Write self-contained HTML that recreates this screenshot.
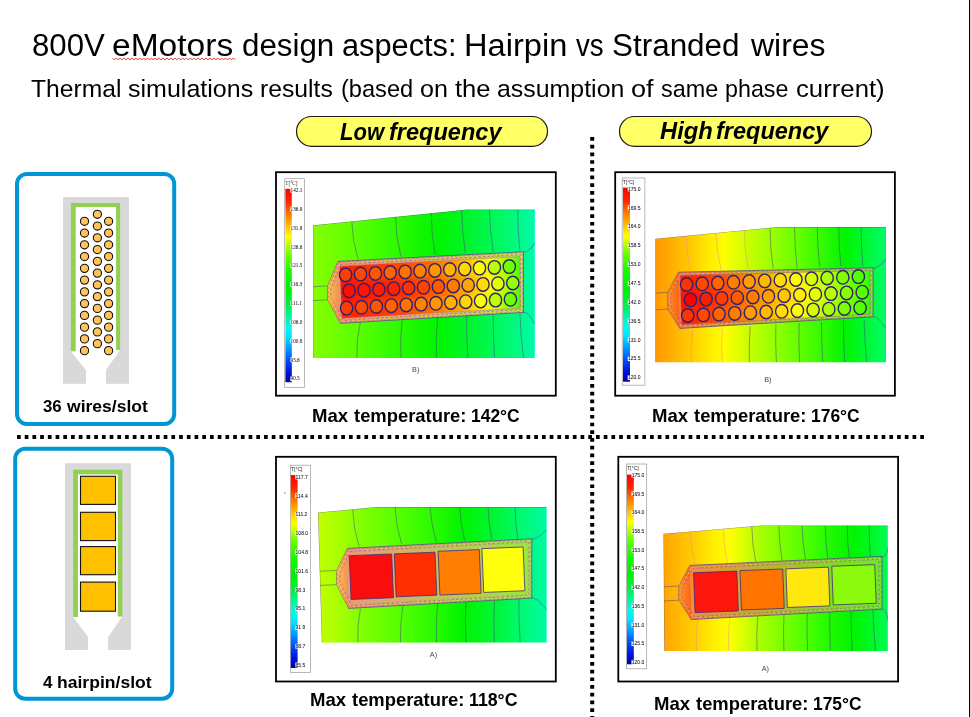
<!DOCTYPE html>
<html><head><meta charset="utf-8"><title>800V eMotors design aspects</title>
<style>
html,body{margin:0;padding:0;background:#fff;}
body{width:970px;height:717px;position:relative;overflow:hidden;font-family:"Liberation Sans",sans-serif;color:#000;}
.t{position:absolute;white-space:nowrap;line-height:1;transform-origin:0 0;}
svg{position:absolute;left:0;top:0;}
svg text{opacity:0.99;}
.tiny{font-family:"Liberation Serif",serif;}
</style></head><body>
<svg width="970" height="717" viewBox="0 0 970 717">
<rect x="969" y="0" width="1" height="717" fill="#000"/>
<line x1="17" y1="437" x2="926" y2="437" stroke="#000" stroke-width="4" stroke-dasharray="3.7 4.02"/>
<line x1="592.2" y1="137" x2="592.2" y2="717" stroke="#000" stroke-width="4" stroke-dasharray="3.7 4.02"/>
<rect x="296.5" y="116.5" width="251" height="29.8" rx="14.9" fill="#FFFF66" stroke="#1a1a1a" stroke-width="1.2"/>
<rect x="619.5" y="116.5" width="252" height="29.8" rx="14.9" fill="#FFFF66" stroke="#1a1a1a" stroke-width="1.2"/>
<polyline points="112.40,57.9 114.35,60.0 116.30,57.9 118.25,60.0 120.20,57.9 122.15,60.0 124.10,57.9 126.05,60.0 128.00,57.9 129.95,60.0 131.90,57.9 133.85,60.0 135.80,57.9 137.75,60.0 139.70,57.9 141.65,60.0 143.60,57.9 145.55,60.0 147.50,57.9 149.45,60.0 151.40,57.9 153.35,60.0 155.30,57.9 157.25,60.0 159.20,57.9 161.15,60.0 163.10,57.9 165.05,60.0 167.00,57.9 168.95,60.0 170.90,57.9 172.85,60.0 174.80,57.9 176.75,60.0 178.70,57.9 180.65,60.0 182.60,57.9 184.55,60.0 186.50,57.9 188.45,60.0 190.40,57.9 192.35,60.0 194.30,57.9 196.25,60.0 198.20,57.9 200.15,60.0 202.10,57.9 204.05,60.0 206.00,57.9 207.95,60.0 209.90,57.9 211.85,60.0 213.80,57.9 215.75,60.0 217.70,57.9 219.65,60.0 221.60,57.9 223.55,60.0 225.50,57.9 227.45,60.0 229.40,57.9 231.35,60.0 233.30,57.9 235.25,60.0" fill="none" stroke="#ee3b3b" stroke-width="1.0" stroke-linejoin="round"/>
<rect x="17" y="174" width="157.2" height="250" rx="10" fill="#fff" stroke="#0096D6" stroke-width="4"/>
<rect x="15.2" y="448.7" width="157" height="250" rx="10" fill="#fff" stroke="#0096D6" stroke-width="4"/>
<rect x="63.1" y="197" width="65.8" height="186.8" fill="#D9D9D9"/>
<polygon points="75.5,207 116.1,207 116.1,350 120.1,350 106,370 106,384 86,384 86,370.2 70.9,351.2 75.5,351.2" fill="#fff"/>
<path d="M70.9,351.2 L70.9,203 L120.1,203 L120.1,350 L116.1,350 L116.1,207 L75.6,207 L75.6,351.2 Z" fill="#92D050"/>
<circle cx="84.5" cy="221.30" r="4.1" fill="#FFC35A" stroke="#111" stroke-width="1.1"/><circle cx="97.4" cy="214.30" r="4.1" fill="#FFC35A" stroke="#111" stroke-width="1.1"/><circle cx="108.6" cy="221.30" r="4.1" fill="#FFC35A" stroke="#111" stroke-width="1.1"/>
<circle cx="84.5" cy="233.06" r="4.1" fill="#FFC35A" stroke="#111" stroke-width="1.1"/><circle cx="97.4" cy="226.06" r="4.1" fill="#FFC35A" stroke="#111" stroke-width="1.1"/><circle cx="108.6" cy="233.06" r="4.1" fill="#FFC35A" stroke="#111" stroke-width="1.1"/>
<circle cx="84.5" cy="244.82" r="4.1" fill="#FFC35A" stroke="#111" stroke-width="1.1"/><circle cx="97.4" cy="237.82" r="4.1" fill="#FFC35A" stroke="#111" stroke-width="1.1"/><circle cx="108.6" cy="244.82" r="4.1" fill="#FFC35A" stroke="#111" stroke-width="1.1"/>
<circle cx="84.5" cy="256.58" r="4.1" fill="#FFC35A" stroke="#111" stroke-width="1.1"/><circle cx="97.4" cy="249.58" r="4.1" fill="#FFC35A" stroke="#111" stroke-width="1.1"/><circle cx="108.6" cy="256.58" r="4.1" fill="#FFC35A" stroke="#111" stroke-width="1.1"/>
<circle cx="84.5" cy="268.34" r="4.1" fill="#FFC35A" stroke="#111" stroke-width="1.1"/><circle cx="97.4" cy="261.34" r="4.1" fill="#FFC35A" stroke="#111" stroke-width="1.1"/><circle cx="108.6" cy="268.34" r="4.1" fill="#FFC35A" stroke="#111" stroke-width="1.1"/>
<circle cx="84.5" cy="280.10" r="4.1" fill="#FFC35A" stroke="#111" stroke-width="1.1"/><circle cx="97.4" cy="273.10" r="4.1" fill="#FFC35A" stroke="#111" stroke-width="1.1"/><circle cx="108.6" cy="280.10" r="4.1" fill="#FFC35A" stroke="#111" stroke-width="1.1"/>
<circle cx="84.5" cy="291.86" r="4.1" fill="#FFC35A" stroke="#111" stroke-width="1.1"/><circle cx="97.4" cy="284.86" r="4.1" fill="#FFC35A" stroke="#111" stroke-width="1.1"/><circle cx="108.6" cy="291.86" r="4.1" fill="#FFC35A" stroke="#111" stroke-width="1.1"/>
<circle cx="84.5" cy="303.62" r="4.1" fill="#FFC35A" stroke="#111" stroke-width="1.1"/><circle cx="97.4" cy="296.62" r="4.1" fill="#FFC35A" stroke="#111" stroke-width="1.1"/><circle cx="108.6" cy="303.62" r="4.1" fill="#FFC35A" stroke="#111" stroke-width="1.1"/>
<circle cx="84.5" cy="315.38" r="4.1" fill="#FFC35A" stroke="#111" stroke-width="1.1"/><circle cx="97.4" cy="308.38" r="4.1" fill="#FFC35A" stroke="#111" stroke-width="1.1"/><circle cx="108.6" cy="315.38" r="4.1" fill="#FFC35A" stroke="#111" stroke-width="1.1"/>
<circle cx="84.5" cy="327.14" r="4.1" fill="#FFC35A" stroke="#111" stroke-width="1.1"/><circle cx="97.4" cy="320.14" r="4.1" fill="#FFC35A" stroke="#111" stroke-width="1.1"/><circle cx="108.6" cy="327.14" r="4.1" fill="#FFC35A" stroke="#111" stroke-width="1.1"/>
<circle cx="84.5" cy="338.90" r="4.1" fill="#FFC35A" stroke="#111" stroke-width="1.1"/><circle cx="97.4" cy="331.90" r="4.1" fill="#FFC35A" stroke="#111" stroke-width="1.1"/><circle cx="108.6" cy="338.90" r="4.1" fill="#FFC35A" stroke="#111" stroke-width="1.1"/>
<circle cx="84.5" cy="350.66" r="4.1" fill="#FFC35A" stroke="#111" stroke-width="1.1"/><circle cx="97.4" cy="343.66" r="4.1" fill="#FFC35A" stroke="#111" stroke-width="1.1"/><circle cx="108.6" cy="350.66" r="4.1" fill="#FFC35A" stroke="#111" stroke-width="1.1"/>
<rect x="65" y="463.2" width="66" height="186.8" fill="#D9D9D9"/>
<polygon points="78,474.5 118,474.5 118,616.5 122.3,616.5 108.1,637 108.1,650.2 88.1,650.2 88.1,637 73.2,617 78,617" fill="#fff"/>
<path d="M73.2,617 L73.2,469.8 L122.3,469.8 L122.3,616.5 L117.8,616.5 L117.8,474.3 L77.9,474.3 L77.9,617 Z" fill="#92D050"/>
<rect x="80.5" y="476.3" width="35" height="28.1" fill="#FFC000" stroke="#111" stroke-width="1.1"/>
<rect x="80.5" y="512.3" width="35" height="28.3" fill="#FFC000" stroke="#111" stroke-width="1.1"/>
<rect x="80.5" y="546.6" width="35" height="28.1" fill="#FFC000" stroke="#111" stroke-width="1.1"/>
<rect x="80.5" y="582.1" width="35" height="29.1" fill="#FFC000" stroke="#111" stroke-width="1.1"/>
<defs><filter id="soft" x="-2%" y="-2%" width="104%" height="104%"><feGaussianBlur stdDeviation="0.45"/></filter><filter id="blur3" x="-10%" y="-40%" width="120%" height="180%"><feGaussianBlur stdDeviation="2.6"/></filter></defs>
<rect x="276.00" y="172.20" width="279.80" height="223.50" fill="#fff" stroke="#000" stroke-width="1.8"/>
<rect x="284.7" y="178.7" width="19.9" height="208.6" fill="#fff" stroke="#9a9a9a" stroke-width="0.7"/>
<linearGradient id="barTL" x1="0" y1="0" x2="0" y2="1"><stop offset="0" stop-color="#ff0000"/><stop offset="0.07" stop-color="#ff2800"/><stop offset="0.137" stop-color="#ff8000"/><stop offset="0.25" stop-color="#ffff00"/><stop offset="0.345" stop-color="#64ff00"/><stop offset="0.433" stop-color="#14fa00"/><stop offset="0.521" stop-color="#00f000"/><stop offset="0.593" stop-color="#00f03c"/><stop offset="0.654" stop-color="#00f596"/><stop offset="0.716" stop-color="#00faeb"/><stop offset="0.76" stop-color="#00e6ff"/><stop offset="0.813" stop-color="#00aaff"/><stop offset="0.875" stop-color="#005aff"/><stop offset="0.946" stop-color="#0014dc"/><stop offset="1" stop-color="#0000aa"/></linearGradient>
<rect x="285.4" y="188.8" width="6.4" height="193.4" fill="url(#barTL)"/>
<text class="tiny" x="285.3" y="184.7" font-size="5.2" fill="#222">T[&#176;C]</text>
<rect x="290.3" y="187.8" width="13.2" height="4.8" fill="#fff"/><text class="tiny" x="290.6" y="191.9" font-size="5.2" fill="#111" stroke="#111" stroke-width="0.04">142.1</text><rect x="290.3" y="206.6" width="13.2" height="4.8" fill="#fff"/><text class="tiny" x="290.6" y="210.8" font-size="5.2" fill="#111" stroke="#111" stroke-width="0.04">136.9</text><rect x="290.3" y="225.5" width="13.2" height="4.8" fill="#fff"/><text class="tiny" x="290.6" y="229.6" font-size="5.2" fill="#111" stroke="#111" stroke-width="0.04">131.8</text><rect x="290.3" y="244.3" width="13.2" height="4.8" fill="#fff"/><text class="tiny" x="290.6" y="248.5" font-size="5.2" fill="#111" stroke="#111" stroke-width="0.04">126.6</text><rect x="290.3" y="263.2" width="13.2" height="4.8" fill="#fff"/><text class="tiny" x="290.6" y="267.3" font-size="5.2" fill="#111" stroke="#111" stroke-width="0.04">121.5</text><rect x="290.3" y="282.1" width="13.2" height="4.8" fill="#fff"/><text class="tiny" x="290.6" y="286.2" font-size="5.2" fill="#111" stroke="#111" stroke-width="0.04">116.3</text><rect x="290.3" y="300.9" width="13.2" height="4.8" fill="#fff"/><text class="tiny" x="290.6" y="305.0" font-size="5.2" fill="#111" stroke="#111" stroke-width="0.04">111.1</text><rect x="290.3" y="319.8" width="13.2" height="4.8" fill="#fff"/><text class="tiny" x="290.6" y="323.9" font-size="5.2" fill="#111" stroke="#111" stroke-width="0.04">106.0</text><rect x="290.3" y="338.6" width="13.2" height="4.8" fill="#fff"/><text class="tiny" x="290.6" y="342.7" font-size="5.2" fill="#111" stroke="#111" stroke-width="0.04">100.8</text><rect x="290.3" y="357.4" width="13.2" height="4.8" fill="#fff"/><text class="tiny" x="290.6" y="361.6" font-size="5.2" fill="#111" stroke="#111" stroke-width="0.04">95.6</text><rect x="290.3" y="376.3" width="13.2" height="4.8" fill="#fff"/><text class="tiny" x="290.6" y="380.4" font-size="5.2" fill="#111" stroke="#111" stroke-width="0.04">90.5</text>
<linearGradient id="bgTL" gradientUnits="userSpaceOnUse" x1="313" y1="0" x2="535" y2="0"><stop offset="0.000" stop-color="#87ff00"/><stop offset="0.198" stop-color="#5aff00"/><stop offset="0.401" stop-color="#28fa00"/><stop offset="0.563" stop-color="#00f500"/><stop offset="0.689" stop-color="#00f528"/><stop offset="0.820" stop-color="#00f85a"/><stop offset="0.946" stop-color="#00fa8c"/><stop offset="1.000" stop-color="#00fab4"/></linearGradient>
<clipPath id="clTL"><polygon points="313.1,225.3 466.7,209.6 534.9,209.6 534.9,357.9 313.1,357.9"/></clipPath>
<g clip-path="url(#clTL)"><polygon points="313.1,225.3 466.7,209.6 534.9,209.6 534.9,357.9 313.1,357.9" fill="url(#bgTL)"/>
<g fill="none" stroke-width="0.6" opacity="0.8"><path d="M351.8,221.5 Q352.3,240.4 358.1,259.4" stroke="#4a3a8c"/><path d="M395.5,216.4 Q395.6,236.6 401.0,256.8" stroke="#4a3a8c"/><path d="M431.3,213.1 Q431.3,233.7 435.1,254.3" stroke="#4a3a8c"/><path d="M461.7,210.1 Q461.9,231.6 465.4,253.0" stroke="#4a3a8c"/><path d="M489.4,209.6 Q490.0,230.7 493.2,251.8" stroke="#4a3a8c"/><path d="M517.7,209.6 Q517.8,230.1 519.8,250.5" stroke="#4a3a8c"/><path d="M356.8,357.9 Q356.1,339.6 360.6,321.2" stroke="#4a3a8c"/><path d="M401.0,357.9 Q399.7,338.3 402.3,318.7" stroke="#4a3a8c"/><path d="M436.4,357.9 Q435.4,337.7 437.7,317.5" stroke="#4a3a8c"/><path d="M468.0,357.9 Q466.0,336.4 466.7,314.9" stroke="#4a3a8c"/><path d="M494.5,357.9 Q492.9,335.8 493.2,313.7" stroke="#4a3a8c"/><path d="M523.5,357.9 Q520.7,335.1 519.8,312.4" stroke="#4a3a8c"/><g stroke="#4a3a8c"><path d="M313.1,286.7 L327.8,285.9"/><path d="M313.1,300.6 L327.8,299.8"/><path d="M522.5,252.3 Q528.5,252.8 534.9,242.8"/><path d="M522.5,311.9 Q528.5,311.4 534.9,324.4"/></g></g>
<polyline points="313.1,357.9 313.1,225.3 466.7,209.6 534.9,209.6" fill="none" stroke="#4a3a8c" stroke-width="0.8" opacity="0.65"/><linearGradient id="bdTL" gradientUnits="userSpaceOnUse" x1="327.7847941399343" y1="0" x2="523.5412983076535" y2="0"><stop offset="0.000" stop-color="#f0966e"/><stop offset="1.000" stop-color="#b9e150"/></linearGradient>
<polygon points="337.9,261.4 523.5,251.8 523.5,312.4 340.4,323.3 327.8,299.8 327.8,285.9" fill="url(#bdTL)" stroke="#5a4494" stroke-width="0.9" stroke-opacity="0.85" filter="url(#soft)"/>
<linearGradient id="tpTL" gradientUnits="userSpaceOnUse" x1="327.7847941399343" y1="0" x2="339.888355645365" y2="0"><stop offset="0.000" stop-color="#fac846"/><stop offset="1.000" stop-color="#f08c5a"/></linearGradient>
<polygon points="337.9,261.4 340.4,323.3 327.8,299.8 327.8,285.9" fill="url(#tpTL)" filter="url(#soft)"/><g fill="none" filter="url(#soft)"><polygon points="338.9,262.4 522.5,252.8 522.5,311.4 341.4,322.3 328.8,298.8 328.8,286.9" stroke="#c23fb0" stroke-width="0.75" stroke-dasharray="2.5 1.8" opacity="0.7"/><polygon points="339.8,263.3 521.6,253.7 521.6,310.5 342.3,321.4 329.7,297.9 329.7,287.8" stroke="#f2e24a" stroke-width="0.7" stroke-dasharray="3 2.2" opacity="0.6"/><polygon points="340.7,264.2 520.7,254.6 520.7,309.6 343.2,320.5 330.6,297.0 330.6,288.7" stroke="#7a35a8" stroke-width="0.7" stroke-dasharray="2 2.6" opacity="0.75"/><polygon points="341.5,265.0 519.9,255.4 519.9,308.8 344.0,319.7 331.4,296.2 331.4,289.5" stroke="#e86aa0" stroke-width="0.6" stroke-dasharray="4 1.5" opacity="0.7"/></g>
<linearGradient id="inTL" gradientUnits="userSpaceOnUse" x1="339.9090679464511" y1="0" x2="520.2576408183885" y2="0"><stop offset="0.000" stop-color="#ff2400"/><stop offset="0.083" stop-color="#ff2800"/><stop offset="0.167" stop-color="#ff3100"/><stop offset="0.250" stop-color="#ff3b00"/><stop offset="0.333" stop-color="#ff4700"/><stop offset="0.417" stop-color="#ff5700"/><stop offset="0.500" stop-color="#ff6c00"/><stop offset="0.583" stop-color="#ff8800"/><stop offset="0.667" stop-color="#ffab00"/><stop offset="0.750" stop-color="#ffd900"/><stop offset="0.833" stop-color="#ebff00"/><stop offset="0.917" stop-color="#a3ff00"/><stop offset="1.000" stop-color="#4aff00"/></linearGradient>
<linearGradient id="imTL" gradientUnits="userSpaceOnUse" x1="339.9090679464511" y1="0" x2="520.2576408183885" y2="0"><stop offset="0.000" stop-color="#ff0f00"/><stop offset="0.083" stop-color="#ff1200"/><stop offset="0.167" stop-color="#ff1700"/><stop offset="0.250" stop-color="#ff1f00"/><stop offset="0.333" stop-color="#ff2a00"/><stop offset="0.417" stop-color="#ff3a00"/><stop offset="0.500" stop-color="#ff5000"/><stop offset="0.583" stop-color="#ff6e00"/><stop offset="0.667" stop-color="#ff9400"/><stop offset="0.750" stop-color="#ffc500"/><stop offset="0.833" stop-color="#fdff00"/><stop offset="0.917" stop-color="#b3ff00"/><stop offset="1.000" stop-color="#5bff00"/></linearGradient>
<polygon points="339.9,266.2 519.8,256.6 520.3,308.1 341.9,318.2" fill="url(#inTL)" stroke="#b050a0" stroke-width="0.6" stroke-opacity="0.6" filter="url(#soft)"/>
<clipPath id="ciTL"><polygon points="339.9,266.2 519.8,256.6 520.3,308.1 341.9,318.2"/></clipPath><g clip-path="url(#ciTL)"><polygon points="340.4,282.1 515.3,274.0 516.4,292.0 340.4,300.4" fill="url(#imTL)" filter="url(#blur3)"/></g>
<g stroke="#30226e" stroke-width="1.4" filter="url(#soft)"><ellipse cx="345.6" cy="274.9" rx="6.15" ry="6.80" fill="#ff3d00"/><ellipse cx="360.5" cy="274.1" rx="6.15" ry="6.80" fill="#ff4a00"/><ellipse cx="375.4" cy="273.4" rx="6.15" ry="6.80" fill="#ff5600"/><ellipse cx="390.2" cy="272.6" rx="6.15" ry="6.80" fill="#ff6300"/><ellipse cx="405.1" cy="271.9" rx="6.15" ry="6.80" fill="#ff7100"/><ellipse cx="420.0" cy="271.1" rx="6.15" ry="6.80" fill="#ff8300"/><ellipse cx="434.9" cy="270.4" rx="6.15" ry="6.80" fill="#ff9800"/><ellipse cx="449.8" cy="269.6" rx="6.15" ry="6.80" fill="#ffb300"/><ellipse cx="464.7" cy="268.9" rx="6.15" ry="6.80" fill="#ffd700"/><ellipse cx="479.5" cy="268.1" rx="6.15" ry="6.80" fill="#f9ff00"/><ellipse cx="494.4" cy="267.4" rx="6.15" ry="6.80" fill="#bdff00"/><ellipse cx="509.3" cy="266.6" rx="6.15" ry="6.80" fill="#70ff00"/><ellipse cx="349.1" cy="290.9" rx="6.15" ry="6.80" fill="#ff0f00"/><ellipse cx="364.0" cy="290.2" rx="6.15" ry="6.80" fill="#ff1400"/><ellipse cx="378.9" cy="289.5" rx="6.15" ry="6.80" fill="#ff1a00"/><ellipse cx="393.7" cy="288.7" rx="6.15" ry="6.80" fill="#ff2300"/><ellipse cx="408.6" cy="288.0" rx="6.15" ry="6.80" fill="#ff3000"/><ellipse cx="423.5" cy="287.3" rx="6.15" ry="6.80" fill="#ff4300"/><ellipse cx="438.4" cy="286.6" rx="6.15" ry="6.80" fill="#ff5b00"/><ellipse cx="453.3" cy="285.9" rx="6.15" ry="6.80" fill="#ff7c00"/><ellipse cx="468.2" cy="285.2" rx="6.15" ry="6.80" fill="#ffa700"/><ellipse cx="483.0" cy="284.4" rx="6.15" ry="6.80" fill="#ffdb00"/><ellipse cx="497.9" cy="283.7" rx="6.15" ry="6.80" fill="#e2ff00"/><ellipse cx="512.8" cy="283.0" rx="6.15" ry="6.80" fill="#94ff00"/><ellipse cx="346.6" cy="308.1" rx="6.15" ry="6.80" fill="#ff3d00"/><ellipse cx="361.5" cy="307.3" rx="6.15" ry="6.80" fill="#ff4a00"/><ellipse cx="376.4" cy="306.5" rx="6.15" ry="6.80" fill="#ff5600"/><ellipse cx="391.3" cy="305.7" rx="6.15" ry="6.80" fill="#ff6300"/><ellipse cx="406.2" cy="304.9" rx="6.15" ry="6.80" fill="#ff7100"/><ellipse cx="421.1" cy="304.1" rx="6.15" ry="6.80" fill="#ff8300"/><ellipse cx="435.9" cy="303.3" rx="6.15" ry="6.80" fill="#ff9800"/><ellipse cx="450.8" cy="302.5" rx="6.15" ry="6.80" fill="#ffb300"/><ellipse cx="465.7" cy="301.7" rx="6.15" ry="6.80" fill="#ffd700"/><ellipse cx="480.6" cy="300.9" rx="6.15" ry="6.80" fill="#f9ff00"/><ellipse cx="495.5" cy="300.1" rx="6.15" ry="6.80" fill="#bdff00"/><ellipse cx="510.4" cy="299.3" rx="6.15" ry="6.80" fill="#70ff00"/></g>
</g>
<text x="415.7" y="372.3" font-size="7.3" fill="#444" text-anchor="middle" font-family="Liberation Sans, sans-serif">B)</text>
<rect x="615.20" y="172.20" width="279.70" height="223.50" fill="#fff" stroke="#000" stroke-width="1.8"/>
<rect x="622.2" y="178" width="22.7" height="207.2" fill="#fff" stroke="#9a9a9a" stroke-width="0.7"/>
<linearGradient id="barTR" x1="0" y1="0" x2="0" y2="1"><stop offset="0" stop-color="#ff0000"/><stop offset="0.07" stop-color="#ff2800"/><stop offset="0.137" stop-color="#ff8000"/><stop offset="0.25" stop-color="#ffff00"/><stop offset="0.345" stop-color="#64ff00"/><stop offset="0.433" stop-color="#14fa00"/><stop offset="0.521" stop-color="#00f000"/><stop offset="0.593" stop-color="#00f03c"/><stop offset="0.654" stop-color="#00f596"/><stop offset="0.716" stop-color="#00faeb"/><stop offset="0.76" stop-color="#00e6ff"/><stop offset="0.813" stop-color="#00aaff"/><stop offset="0.875" stop-color="#005aff"/><stop offset="0.946" stop-color="#0014dc"/><stop offset="1" stop-color="#0000aa"/></linearGradient>
<rect x="623" y="187.6" width="7.0" height="194.1" fill="url(#barTR)"/>
<text font-family="Liberation Sans, sans-serif" x="622.8000000000001" y="184.0" font-size="5.0" fill="#222">T[&#176;C]</text>
<rect x="627.7" y="186.5" width="16.1" height="4.8" fill="#fff"/><text font-family="Liberation Sans, sans-serif" x="628.0" y="190.6" font-size="5.0" fill="#111" stroke="#111" stroke-width="0.05">175.0</text><rect x="627.7" y="205.4" width="16.1" height="4.8" fill="#fff"/><text font-family="Liberation Sans, sans-serif" x="628.0" y="209.5" font-size="5.0" fill="#111" stroke="#111" stroke-width="0.05">169.5</text><rect x="627.7" y="224.2" width="16.1" height="4.8" fill="#fff"/><text font-family="Liberation Sans, sans-serif" x="628.0" y="228.3" font-size="5.0" fill="#111" stroke="#111" stroke-width="0.05">164.0</text><rect x="627.7" y="243.1" width="16.1" height="4.8" fill="#fff"/><text font-family="Liberation Sans, sans-serif" x="628.0" y="247.2" font-size="5.0" fill="#111" stroke="#111" stroke-width="0.05">158.5</text><rect x="627.7" y="262.0" width="16.1" height="4.8" fill="#fff"/><text font-family="Liberation Sans, sans-serif" x="628.0" y="266.1" font-size="5.0" fill="#111" stroke="#111" stroke-width="0.05">153.0</text><rect x="627.7" y="280.9" width="16.1" height="4.8" fill="#fff"/><text font-family="Liberation Sans, sans-serif" x="628.0" y="285.0" font-size="5.0" fill="#111" stroke="#111" stroke-width="0.05">147.5</text><rect x="627.7" y="299.7" width="16.1" height="4.8" fill="#fff"/><text font-family="Liberation Sans, sans-serif" x="628.0" y="303.8" font-size="5.0" fill="#111" stroke="#111" stroke-width="0.05">142.0</text><rect x="627.7" y="318.6" width="16.1" height="4.8" fill="#fff"/><text font-family="Liberation Sans, sans-serif" x="628.0" y="322.7" font-size="5.0" fill="#111" stroke="#111" stroke-width="0.05">136.5</text><rect x="627.7" y="337.5" width="16.1" height="4.8" fill="#fff"/><text font-family="Liberation Sans, sans-serif" x="628.0" y="341.6" font-size="5.0" fill="#111" stroke="#111" stroke-width="0.05">131.0</text><rect x="627.7" y="356.3" width="16.1" height="4.8" fill="#fff"/><text font-family="Liberation Sans, sans-serif" x="628.0" y="360.4" font-size="5.0" fill="#111" stroke="#111" stroke-width="0.05">125.5</text><rect x="627.7" y="375.2" width="16.1" height="4.8" fill="#fff"/><text font-family="Liberation Sans, sans-serif" x="628.0" y="379.3" font-size="5.0" fill="#111" stroke="#111" stroke-width="0.05">120.0</text>
<linearGradient id="bgTR" gradientUnits="userSpaceOnUse" x1="655" y1="0" x2="886" y2="0"><stop offset="0.000" stop-color="#ff9600"/><stop offset="0.087" stop-color="#ffb400"/><stop offset="0.160" stop-color="#ffcd00"/><stop offset="0.234" stop-color="#ffeb00"/><stop offset="0.299" stop-color="#ffff00"/><stop offset="0.407" stop-color="#c8ff00"/><stop offset="0.515" stop-color="#96ff00"/><stop offset="0.619" stop-color="#64ff00"/><stop offset="0.727" stop-color="#32fa00"/><stop offset="0.823" stop-color="#00f500"/><stop offset="0.909" stop-color="#00f832"/><stop offset="1.000" stop-color="#00fc69"/></linearGradient>
<clipPath id="clTR"><polygon points="655.3,238.7 776.4,227.1 886.0,227.1 886.0,362.4 655.3,362.4"/></clipPath>
<g clip-path="url(#clTR)"><polygon points="655.3,238.7 776.4,227.1 886.0,227.1 886.0,362.4 655.3,362.4" fill="url(#bgTR)"/>
<g fill="none" stroke-width="0.6" opacity="0.8"><path d="M686.2,235.6 Q686.5,253.0 690.1,270.4" stroke="#ee7fa6"/><path d="M715.9,233.0 Q716.8,251.3 721.0,269.6" stroke="#ee7fa6"/><path d="M744.2,229.9 Q744.5,249.5 748.1,269.1" stroke="#ee7fa6"/><path d="M770.0,227.9 Q770.2,248.1 773.1,268.4" stroke="#4a3a8c"/><path d="M794.5,227.1 Q794.8,247.5 797.1,267.8" stroke="#4a3a8c"/><path d="M817.2,227.1 Q817.4,247.2 819.7,267.3" stroke="#4a3a8c"/><path d="M838.8,227.1 Q838.8,246.8 840.9,266.5" stroke="#4a3a8c"/><path d="M861.0,227.1 Q861.2,246.6 862.8,266.0" stroke="#4a3a8c"/><path d="M691.4,362.4 Q690.4,346.1 692.7,329.7" stroke="#ee7fa6"/><path d="M722.3,362.4 Q721.0,345.2 722.3,327.9" stroke="#ee7fa6"/><path d="M749.4,362.4 Q748.8,344.4 750.2,326.3" stroke="#4a3a8c"/><path d="M776.4,362.4 Q775.2,343.5 775.9,324.5" stroke="#4a3a8c"/><path d="M799.6,362.4 Q798.4,342.8 799.1,323.2" stroke="#4a3a8c"/><path d="M822.8,362.4 Q821.5,342.2 821.5,322.0" stroke="#4a3a8c"/><path d="M844.7,362.4 Q843.4,341.5 843.5,320.7" stroke="#4a3a8c"/><path d="M866.6,362.4 Q864.7,340.9 864.1,319.4" stroke="#4a3a8c"/><g stroke="#4a3a8c"><path d="M655.3,293.1 L667.7,292.3"/><path d="M655.3,309.9 L667.7,309.1"/><path d="M872.1,268.3 Q878.1,268.8 886.0,258.8"/><path d="M872.1,316.3 Q878.1,315.8 886.0,328.8"/></g></g>
<polyline points="655.3,362.4 655.3,238.7 776.4,227.1 886.0,227.1" fill="none" stroke="#4a3a8c" stroke-width="0.8" opacity="0.65"/><linearGradient id="bdTR" gradientUnits="userSpaceOnUse" x1="667.680412371134" y1="0" x2="873.0927835051547" y2="0"><stop offset="0.000" stop-color="#fc7d32"/><stop offset="1.000" stop-color="#5ff51e"/></linearGradient>
<polygon points="678.5,272.2 873.1,267.8 873.1,316.8 679.8,328.4 667.7,309.1 667.7,292.3" fill="url(#bdTR)" stroke="#5a4494" stroke-width="0.9" stroke-opacity="0.85" filter="url(#soft)"/>
<linearGradient id="tpTR" gradientUnits="userSpaceOnUse" x1="667.680412371134" y1="0" x2="680.5051546391753" y2="0"><stop offset="0.000" stop-color="#ff9614"/><stop offset="1.000" stop-color="#fa5a1e"/></linearGradient>
<polygon points="678.5,272.2 679.8,328.4 667.7,309.1 667.7,292.3" fill="url(#tpTR)" filter="url(#soft)"/><g fill="none" filter="url(#soft)"><polygon points="679.5,273.2 872.1,268.8 872.1,315.8 680.8,327.4 668.7,308.1 668.7,293.3" stroke="#c23fb0" stroke-width="0.75" stroke-dasharray="2.5 1.8" opacity="0.7"/><polygon points="680.4,274.1 871.2,269.7 871.2,314.9 681.7,326.5 669.6,307.2 669.6,294.2" stroke="#f2e24a" stroke-width="0.7" stroke-dasharray="3 2.2" opacity="0.6"/><polygon points="681.3,275.0 870.3,270.6 870.3,314.0 682.6,325.6 670.5,306.3 670.5,295.1" stroke="#7a35a8" stroke-width="0.7" stroke-dasharray="2 2.6" opacity="0.75"/><polygon points="682.1,275.8 869.5,271.4 869.5,313.2 683.4,324.8 671.3,305.5 671.3,295.9" stroke="#e86aa0" stroke-width="0.6" stroke-dasharray="4 1.5" opacity="0.7"/></g>
<linearGradient id="inTR" gradientUnits="userSpaceOnUse" x1="680.3092783505155" y1="0" x2="870.0" y2="0"><stop offset="0.000" stop-color="#ff1a00"/><stop offset="0.083" stop-color="#ff2600"/><stop offset="0.167" stop-color="#ff4000"/><stop offset="0.250" stop-color="#ff5c00"/><stop offset="0.333" stop-color="#ff7b00"/><stop offset="0.417" stop-color="#ff9d00"/><stop offset="0.500" stop-color="#ffc000"/><stop offset="0.583" stop-color="#ffe600"/><stop offset="0.667" stop-color="#efff00"/><stop offset="0.750" stop-color="#c4ff00"/><stop offset="0.833" stop-color="#97ff00"/><stop offset="0.917" stop-color="#67ff00"/><stop offset="1.000" stop-color="#35ff00"/></linearGradient>
<linearGradient id="imTR" gradientUnits="userSpaceOnUse" x1="680.3092783505155" y1="0" x2="870.0" y2="0"><stop offset="0.000" stop-color="#ff0500"/><stop offset="0.083" stop-color="#ff1200"/><stop offset="0.167" stop-color="#ff2e00"/><stop offset="0.250" stop-color="#ff4c00"/><stop offset="0.333" stop-color="#ff6c00"/><stop offset="0.417" stop-color="#ff8f00"/><stop offset="0.500" stop-color="#ffb500"/><stop offset="0.583" stop-color="#ffdc00"/><stop offset="0.667" stop-color="#f7ff00"/><stop offset="0.750" stop-color="#cbff00"/><stop offset="0.833" stop-color="#9cff00"/><stop offset="0.917" stop-color="#6aff00"/><stop offset="1.000" stop-color="#36ff00"/></linearGradient>
<polygon points="680.3,275.6 869.7,270.4 870.0,314.2 681.6,324.5" fill="url(#inTR)" stroke="#b050a0" stroke-width="0.6" stroke-opacity="0.6" filter="url(#soft)"/>
<clipPath id="ciTR"><polygon points="680.3,275.6 869.7,270.4 870.0,314.2 681.6,324.5"/></clipPath><g clip-path="url(#ciTR)"><polygon points="680.8,291.4 864.4,283.6 866.1,300.8 680.8,308.4" fill="url(#imTR)" filter="url(#blur3)"/></g>
<g stroke="#30226e" stroke-width="1.4" filter="url(#soft)"><ellipse cx="686.6" cy="284.5" rx="6.15" ry="6.80" fill="#ff3300"/><ellipse cx="702.2" cy="283.8" rx="6.15" ry="6.80" fill="#ff4a00"/><ellipse cx="717.8" cy="283.1" rx="6.15" ry="6.80" fill="#ff6300"/><ellipse cx="733.5" cy="282.3" rx="6.15" ry="6.80" fill="#ff7e00"/><ellipse cx="749.1" cy="281.6" rx="6.15" ry="6.80" fill="#ff9c00"/><ellipse cx="764.7" cy="280.9" rx="6.15" ry="6.80" fill="#ffbb00"/><ellipse cx="780.3" cy="280.2" rx="6.15" ry="6.80" fill="#ffde00"/><ellipse cx="795.9" cy="279.5" rx="6.15" ry="6.80" fill="#fcff00"/><ellipse cx="811.5" cy="278.8" rx="6.15" ry="6.80" fill="#d5ff00"/><ellipse cx="827.2" cy="278.0" rx="6.15" ry="6.80" fill="#abff00"/><ellipse cx="842.8" cy="277.3" rx="6.15" ry="6.80" fill="#80ff00"/><ellipse cx="858.4" cy="276.6" rx="6.15" ry="6.80" fill="#52ff00"/><ellipse cx="690.5" cy="299.8" rx="6.15" ry="6.80" fill="#ff0500"/><ellipse cx="706.1" cy="299.1" rx="6.15" ry="6.80" fill="#ff1f00"/><ellipse cx="721.7" cy="298.4" rx="6.15" ry="6.80" fill="#ff3c00"/><ellipse cx="737.3" cy="297.7" rx="6.15" ry="6.80" fill="#ff5b00"/><ellipse cx="752.9" cy="297.0" rx="6.15" ry="6.80" fill="#ff7d00"/><ellipse cx="768.5" cy="296.3" rx="6.15" ry="6.80" fill="#ffa000"/><ellipse cx="784.2" cy="295.7" rx="6.15" ry="6.80" fill="#ffc600"/><ellipse cx="799.8" cy="295.0" rx="6.15" ry="6.80" fill="#ffee00"/><ellipse cx="815.4" cy="294.3" rx="6.15" ry="6.80" fill="#e5ff00"/><ellipse cx="831.0" cy="293.6" rx="6.15" ry="6.80" fill="#b8ff00"/><ellipse cx="846.6" cy="292.9" rx="6.15" ry="6.80" fill="#89ff00"/><ellipse cx="862.2" cy="292.2" rx="6.15" ry="6.80" fill="#57ff00"/><ellipse cx="687.7" cy="315.5" rx="6.15" ry="6.80" fill="#ff3300"/><ellipse cx="703.4" cy="314.8" rx="6.15" ry="6.80" fill="#ff4a00"/><ellipse cx="719.0" cy="314.1" rx="6.15" ry="6.80" fill="#ff6300"/><ellipse cx="734.7" cy="313.4" rx="6.15" ry="6.80" fill="#ff7e00"/><ellipse cx="750.4" cy="312.7" rx="6.15" ry="6.80" fill="#ff9c00"/><ellipse cx="766.1" cy="312.0" rx="6.15" ry="6.80" fill="#ffbb00"/><ellipse cx="781.7" cy="311.3" rx="6.15" ry="6.80" fill="#ffde00"/><ellipse cx="797.4" cy="310.6" rx="6.15" ry="6.80" fill="#fcff00"/><ellipse cx="813.1" cy="309.9" rx="6.15" ry="6.80" fill="#d5ff00"/><ellipse cx="828.8" cy="309.2" rx="6.15" ry="6.80" fill="#abff00"/><ellipse cx="844.4" cy="308.5" rx="6.15" ry="6.80" fill="#80ff00"/><ellipse cx="860.1" cy="307.8" rx="6.15" ry="6.80" fill="#52ff00"/></g>
</g>
<text x="767.8" y="381.6" font-size="7.3" fill="#444" text-anchor="middle" font-family="Liberation Sans, sans-serif">B)</text>
<rect x="276.00" y="456.80" width="279.80" height="224.70" fill="#fff" stroke="#000" stroke-width="1.8"/>
<rect x="290.4" y="465.2" width="20.1" height="207.4" fill="#fff" stroke="#9a9a9a" stroke-width="0.7"/>
<linearGradient id="barBL" x1="0" y1="0" x2="0" y2="1"><stop offset="0" stop-color="#ff0000"/><stop offset="0.07" stop-color="#ff2800"/><stop offset="0.137" stop-color="#ff8000"/><stop offset="0.25" stop-color="#ffff00"/><stop offset="0.345" stop-color="#64ff00"/><stop offset="0.433" stop-color="#14fa00"/><stop offset="0.521" stop-color="#00f000"/><stop offset="0.593" stop-color="#00f03c"/><stop offset="0.654" stop-color="#00f596"/><stop offset="0.716" stop-color="#00faeb"/><stop offset="0.76" stop-color="#00e6ff"/><stop offset="0.813" stop-color="#00aaff"/><stop offset="0.875" stop-color="#005aff"/><stop offset="0.946" stop-color="#0014dc"/><stop offset="1" stop-color="#0000aa"/></linearGradient>
<rect x="290.8" y="475.0" width="6.8" height="193.0" fill="url(#barBL)"/>
<text font-family="Liberation Sans, sans-serif" x="291.0" y="471.2" font-size="5.0" fill="#222">T[&#176;C]</text>
<rect x="295.3" y="474.6" width="14.1" height="4.8" fill="#fff"/><text font-family="Liberation Sans, sans-serif" x="295.6" y="478.7" font-size="5.0" fill="#111" stroke="#111" stroke-width="0.05">117.7</text><rect x="295.3" y="493.4" width="14.1" height="4.8" fill="#fff"/><text font-family="Liberation Sans, sans-serif" x="295.6" y="497.5" font-size="5.0" fill="#111" stroke="#111" stroke-width="0.05">114.4</text><rect x="295.3" y="512.2" width="14.1" height="4.8" fill="#fff"/><text font-family="Liberation Sans, sans-serif" x="295.6" y="516.3" font-size="5.0" fill="#111" stroke="#111" stroke-width="0.05">111.2</text><rect x="295.3" y="531.0" width="14.1" height="4.8" fill="#fff"/><text font-family="Liberation Sans, sans-serif" x="295.6" y="535.1" font-size="5.0" fill="#111" stroke="#111" stroke-width="0.05">108.0</text><rect x="295.3" y="549.8" width="14.1" height="4.8" fill="#fff"/><text font-family="Liberation Sans, sans-serif" x="295.6" y="553.9" font-size="5.0" fill="#111" stroke="#111" stroke-width="0.05">104.8</text><rect x="295.3" y="568.6" width="14.1" height="4.8" fill="#fff"/><text font-family="Liberation Sans, sans-serif" x="295.6" y="572.7" font-size="5.0" fill="#111" stroke="#111" stroke-width="0.05">101.6</text><rect x="295.3" y="587.4" width="14.1" height="4.8" fill="#fff"/><text font-family="Liberation Sans, sans-serif" x="295.6" y="591.5" font-size="5.0" fill="#111" stroke="#111" stroke-width="0.05">98.3</text><rect x="295.3" y="606.2" width="14.1" height="4.8" fill="#fff"/><text font-family="Liberation Sans, sans-serif" x="295.6" y="610.3" font-size="5.0" fill="#111" stroke="#111" stroke-width="0.05">95.1</text><rect x="295.3" y="625.0" width="14.1" height="4.8" fill="#fff"/><text font-family="Liberation Sans, sans-serif" x="295.6" y="629.1" font-size="5.0" fill="#111" stroke="#111" stroke-width="0.05">91.9</text><rect x="295.3" y="643.8" width="14.1" height="4.8" fill="#fff"/><text font-family="Liberation Sans, sans-serif" x="295.6" y="647.9" font-size="5.0" fill="#111" stroke="#111" stroke-width="0.05">88.7</text><rect x="295.3" y="662.6" width="14.1" height="4.8" fill="#fff"/><text font-family="Liberation Sans, sans-serif" x="295.6" y="666.7" font-size="5.0" fill="#111" stroke="#111" stroke-width="0.05">85.5</text>
<path d="M284.3,493.9 L285.3,491.9" stroke="#5060d0" stroke-width="0.7"/>
<linearGradient id="bgBL" gradientUnits="userSpaceOnUse" x1="318" y1="0" x2="547" y2="0"><stop offset="0.000" stop-color="#c3ff00"/><stop offset="0.096" stop-color="#a5ff00"/><stop offset="0.183" stop-color="#82ff00"/><stop offset="0.354" stop-color="#55ff00"/><stop offset="0.507" stop-color="#28fa00"/><stop offset="0.633" stop-color="#00f500"/><stop offset="0.764" stop-color="#00f532"/><stop offset="0.882" stop-color="#00fa6e"/><stop offset="1.000" stop-color="#00faa5"/></linearGradient>
<clipPath id="clBL"><polygon points="317.9,512.5 375.9,507.1 546.8,507.1 546.8,642.7 321.8,642.7"/></clipPath>
<g clip-path="url(#clBL)"><polygon points="317.9,512.5 375.9,507.1 546.8,507.1 546.8,642.7 321.8,642.7" fill="url(#bgBL)"/>
<g fill="none" stroke-width="0.6" opacity="0.8"><path d="M352.7,509.2 Q353.2,527.9 359.1,546.5" stroke="#4a3a8c"/><path d="M395.2,507.1 Q395.7,525.5 401.6,544.0" stroke="#4a3a8c"/><path d="M430.0,507.1 Q431.2,524.9 436.4,542.7" stroke="#4a3a8c"/><path d="M459.6,507.1 Q460.5,524.3 464.8,541.4" stroke="#4a3a8c"/><path d="M488.0,507.1 Q488.6,523.2 491.9,539.3" stroke="#4a3a8c"/><path d="M515.1,507.1 Q515.3,522.7 517.6,538.3" stroke="#4a3a8c"/><path d="M357.8,642.7 Q357.1,625.5 360.4,608.4" stroke="#4a3a8c"/><path d="M400.4,642.7 Q400.0,624.3 402.9,605.8" stroke="#4a3a8c"/><path d="M436.4,642.7 Q435.7,623.0 437.7,603.2" stroke="#4a3a8c"/><path d="M466.1,642.7 Q464.7,621.9 466.1,601.2" stroke="#4a3a8c"/><path d="M494.4,642.7 Q493.4,621.4 494.4,600.2" stroke="#4a3a8c"/><path d="M520.2,642.7 Q518.6,620.6 518.9,598.6" stroke="#4a3a8c"/><g stroke="#4a3a8c"><path d="M317.9,571.3 L336.7,570.5"/><path d="M317.9,585.5 L336.7,584.7"/><path d="M530.8,539.3 Q536.8,539.8 546.8,529.8"/><path d="M530.8,597.6 Q536.8,597.1 546.8,610.1"/></g></g>
<polyline points="321.8,642.7 317.9,512.5 375.9,507.1 546.8,507.1" fill="none" stroke="#4a3a8c" stroke-width="0.8" opacity="0.65"/><linearGradient id="bdBL" gradientUnits="userSpaceOnUse" x1="336.70103092783506" y1="0" x2="531.8041237113403" y2="0"><stop offset="0.000" stop-color="#f09678"/><stop offset="1.000" stop-color="#96eb3c"/></linearGradient>
<polygon points="347.5,548.4 531.8,538.8 531.8,598.1 348.8,608.4 336.7,584.7 336.7,570.5" fill="url(#bdBL)" stroke="#5a4494" stroke-width="0.9" stroke-opacity="0.85" filter="url(#soft)"/>
<linearGradient id="tpBL" gradientUnits="userSpaceOnUse" x1="336.70103092783506" y1="0" x2="349.5257731958763" y2="0"><stop offset="0.000" stop-color="#fac846"/><stop offset="1.000" stop-color="#f08c5a"/></linearGradient>
<polygon points="347.5,548.4 348.8,608.4 336.7,584.7 336.7,570.5" fill="url(#tpBL)" filter="url(#soft)"/><g fill="none" filter="url(#soft)"><polygon points="348.5,549.4 530.8,539.8 530.8,597.1 349.8,607.4 337.7,583.7 337.7,571.5" stroke="#c23fb0" stroke-width="0.75" stroke-dasharray="2.5 1.8" opacity="0.7"/><polygon points="349.4,550.3 529.9,540.7 529.9,596.2 350.7,606.5 338.6,582.8 338.6,572.4" stroke="#f2e24a" stroke-width="0.7" stroke-dasharray="3 2.2" opacity="0.6"/><polygon points="350.3,551.2 529.0,541.6 529.0,595.3 351.6,605.6 339.5,581.9 339.5,573.3" stroke="#7a35a8" stroke-width="0.7" stroke-dasharray="2 2.6" opacity="0.75"/><polygon points="351.1,552.0 528.2,542.4 528.2,594.5 352.4,604.8 340.3,581.1 340.3,574.1" stroke="#e86aa0" stroke-width="0.6" stroke-dasharray="4 1.5" opacity="0.7"/></g>
<g stroke="#4a2a80" stroke-width="0.8" filter="url(#soft)"><rect x="350.1" y="554.8" width="42.5" height="43.8" fill="#fa0f0a" transform="rotate(-2.37 371.4 576.7)"/><rect x="395.2" y="553.0" width="40.7" height="43.0" fill="#ff2d05" transform="rotate(-2.37 415.6 574.5)"/><rect x="439.0" y="550.4" width="41.2" height="43.8" fill="#ff7d05" transform="rotate(-2.37 459.6 572.3)"/><rect x="482.8" y="547.8" width="41.2" height="43.8" fill="#ffff0a" transform="rotate(-2.37 503.5 569.7)"/></g>
</g>
<text x="433.5" y="657.0" font-size="7.3" fill="#444" text-anchor="middle" font-family="Liberation Sans, sans-serif">A)</text>
<rect x="618.30" y="456.80" width="279.80" height="224.70" fill="#fff" stroke="#000" stroke-width="1.8"/>
<rect x="626.6" y="464" width="20.1" height="204.8" fill="#fff" stroke="#9a9a9a" stroke-width="0.7"/>
<linearGradient id="barBR" x1="0" y1="0" x2="0" y2="1"><stop offset="0" stop-color="#ff0000"/><stop offset="0.07" stop-color="#ff2800"/><stop offset="0.137" stop-color="#ff8000"/><stop offset="0.25" stop-color="#ffff00"/><stop offset="0.345" stop-color="#64ff00"/><stop offset="0.433" stop-color="#14fa00"/><stop offset="0.521" stop-color="#00f000"/><stop offset="0.593" stop-color="#00f03c"/><stop offset="0.654" stop-color="#00f596"/><stop offset="0.716" stop-color="#00faeb"/><stop offset="0.76" stop-color="#00e6ff"/><stop offset="0.813" stop-color="#00aaff"/><stop offset="0.875" stop-color="#005aff"/><stop offset="0.946" stop-color="#0014dc"/><stop offset="1" stop-color="#0000aa"/></linearGradient>
<rect x="627" y="474.6" width="6.8" height="189.7" fill="url(#barBR)"/>
<text font-family="Liberation Sans, sans-serif" x="627.2" y="470.0" font-size="5.0" fill="#222">T[&#176;C]</text>
<rect x="631.5" y="472.7" width="14.1" height="4.8" fill="#fff"/><text font-family="Liberation Sans, sans-serif" x="631.8" y="476.8" font-size="5.0" fill="#111" stroke="#111" stroke-width="0.05">175.0</text><rect x="631.5" y="491.4" width="14.1" height="4.8" fill="#fff"/><text font-family="Liberation Sans, sans-serif" x="631.8" y="495.5" font-size="5.0" fill="#111" stroke="#111" stroke-width="0.05">169.5</text><rect x="631.5" y="510.1" width="14.1" height="4.8" fill="#fff"/><text font-family="Liberation Sans, sans-serif" x="631.8" y="514.2" font-size="5.0" fill="#111" stroke="#111" stroke-width="0.05">164.0</text><rect x="631.5" y="528.9" width="14.1" height="4.8" fill="#fff"/><text font-family="Liberation Sans, sans-serif" x="631.8" y="533.0" font-size="5.0" fill="#111" stroke="#111" stroke-width="0.05">158.5</text><rect x="631.5" y="547.6" width="14.1" height="4.8" fill="#fff"/><text font-family="Liberation Sans, sans-serif" x="631.8" y="551.7" font-size="5.0" fill="#111" stroke="#111" stroke-width="0.05">153.0</text><rect x="631.5" y="566.3" width="14.1" height="4.8" fill="#fff"/><text font-family="Liberation Sans, sans-serif" x="631.8" y="570.4" font-size="5.0" fill="#111" stroke="#111" stroke-width="0.05">147.5</text><rect x="631.5" y="585.0" width="14.1" height="4.8" fill="#fff"/><text font-family="Liberation Sans, sans-serif" x="631.8" y="589.1" font-size="5.0" fill="#111" stroke="#111" stroke-width="0.05">142.0</text><rect x="631.5" y="603.7" width="14.1" height="4.8" fill="#fff"/><text font-family="Liberation Sans, sans-serif" x="631.8" y="607.8" font-size="5.0" fill="#111" stroke="#111" stroke-width="0.05">136.5</text><rect x="631.5" y="622.5" width="14.1" height="4.8" fill="#fff"/><text font-family="Liberation Sans, sans-serif" x="631.8" y="626.6" font-size="5.0" fill="#111" stroke="#111" stroke-width="0.05">131.0</text><rect x="631.5" y="641.2" width="14.1" height="4.8" fill="#fff"/><text font-family="Liberation Sans, sans-serif" x="631.8" y="645.3" font-size="5.0" fill="#111" stroke="#111" stroke-width="0.05">125.5</text><rect x="631.5" y="659.9" width="14.1" height="4.8" fill="#fff"/><text font-family="Liberation Sans, sans-serif" x="631.8" y="664.0" font-size="5.0" fill="#111" stroke="#111" stroke-width="0.05">120.0</text>
<linearGradient id="bgBR" gradientUnits="userSpaceOnUse" x1="663" y1="0" x2="888" y2="0"><stop offset="0.000" stop-color="#ffa300"/><stop offset="0.084" stop-color="#ffbe00"/><stop offset="0.151" stop-color="#ffd200"/><stop offset="0.227" stop-color="#fff000"/><stop offset="0.293" stop-color="#ffff00"/><stop offset="0.360" stop-color="#d7ff00"/><stop offset="0.427" stop-color="#aaff00"/><stop offset="0.538" stop-color="#78ff00"/><stop offset="0.644" stop-color="#4bff00"/><stop offset="0.747" stop-color="#1efa00"/><stop offset="0.844" stop-color="#00f500"/><stop offset="0.933" stop-color="#00f828"/><stop offset="1.000" stop-color="#00fa55"/></linearGradient>
<clipPath id="clBR"><polygon points="663.4,533.7 760.8,525.5 887.9,525.5 887.9,651.2 664.2,651.2"/></clipPath>
<g clip-path="url(#clBR)"><polygon points="663.4,533.7 760.8,525.5 887.9,525.5 887.9,651.2 664.2,651.2" fill="url(#bgBR)"/>
<g fill="none" stroke-width="0.6" opacity="0.8"><path d="M689.9,531.9 Q690.5,548.0 695.1,564.1" stroke="#ee7fa6"/><path d="M723.5,529.3 Q723.4,546.1 727.3,562.8" stroke="#ee7fa6"/><path d="M751.8,526.0 Q752.1,543.8 755.7,561.5" stroke="#4a3a8c"/><path d="M778.9,525.5 Q779.1,542.9 782.0,560.3" stroke="#4a3a8c"/><path d="M802.1,525.5 Q802.4,542.2 805.4,559.0" stroke="#4a3a8c"/><path d="M825.3,525.5 Q825.5,542.0 827.8,558.5" stroke="#4a3a8c"/><path d="M847.2,525.5 Q847.2,541.6 849.2,557.7" stroke="#4a3a8c"/><path d="M869.1,525.5 Q869.0,541.2 870.4,556.9" stroke="#4a3a8c"/><path d="M696.4,651.2 Q695.4,635.4 697.7,619.5" stroke="#ee7fa6"/><path d="M728.6,651.2 Q727.9,634.5 729.9,617.7" stroke="#ee7fa6"/><path d="M757.0,651.2 Q756.3,633.7 757.7,616.2" stroke="#4a3a8c"/><path d="M784.0,651.2 Q783.0,632.8 784.0,614.4" stroke="#4a3a8c"/><path d="M807.7,651.2 Q806.5,632.2 807.2,613.1" stroke="#4a3a8c"/><path d="M830.4,651.2 Q829.5,631.5 829.9,611.8" stroke="#4a3a8c"/><path d="M852.3,651.2 Q851.0,631.1 851.0,611.0" stroke="#4a3a8c"/><path d="M875.5,651.2 Q873.6,630.6 872.9,610.0" stroke="#4a3a8c"/><g stroke="#4a3a8c"><path d="M663.4,586.8 L678.9,586.0"/><path d="M663.4,601.0 L678.9,600.2"/><path d="M881.0,556.9 Q887.0,557.4 887.9,547.4"/><path d="M881.0,608.7 Q887.0,608.2 887.9,621.2"/></g></g>
<polyline points="664.2,651.2 663.4,533.7 760.8,525.5 887.9,525.5" fill="none" stroke="#4a3a8c" stroke-width="0.8" opacity="0.65"/><linearGradient id="bdBR" gradientUnits="userSpaceOnUse" x1="678.8659793814433" y1="0" x2="881.9587628865979" y2="0"><stop offset="0.000" stop-color="#fc8737"/><stop offset="1.000" stop-color="#5af51e"/></linearGradient>
<polygon points="689.9,565.4 882.0,556.4 882.0,609.2 691.2,619.5 678.9,600.2 678.9,586.0" fill="url(#bdBR)" stroke="#5a4494" stroke-width="0.9" stroke-opacity="0.85" filter="url(#soft)"/>
<linearGradient id="tpBR" gradientUnits="userSpaceOnUse" x1="678.8659793814433" y1="0" x2="691.9484536082474" y2="0"><stop offset="0.000" stop-color="#ff9b14"/><stop offset="1.000" stop-color="#fa5f1e"/></linearGradient>
<polygon points="689.9,565.4 691.2,619.5 678.9,600.2 678.9,586.0" fill="url(#tpBR)" filter="url(#soft)"/><g fill="none" filter="url(#soft)"><polygon points="690.9,566.4 881.0,557.4 881.0,608.2 692.2,618.5 679.9,599.2 679.9,587.0" stroke="#c23fb0" stroke-width="0.75" stroke-dasharray="2.5 1.8" opacity="0.7"/><polygon points="691.8,567.3 880.1,558.3 880.1,607.3 693.1,617.6 680.8,598.3 680.8,587.9" stroke="#f2e24a" stroke-width="0.7" stroke-dasharray="3 2.2" opacity="0.6"/><polygon points="692.7,568.2 879.2,559.2 879.2,606.4 694.0,616.7 681.7,597.4 681.7,588.8" stroke="#7a35a8" stroke-width="0.7" stroke-dasharray="2 2.6" opacity="0.75"/><polygon points="693.5,569.0 878.4,560.0 878.4,605.6 694.8,615.9 682.5,596.6 682.5,589.6" stroke="#e86aa0" stroke-width="0.6" stroke-dasharray="4 1.5" opacity="0.7"/></g>
<g stroke="#4a2a80" stroke-width="0.8" filter="url(#soft)"><rect x="694.3" y="571.9" width="43.3" height="39.9" fill="#fc160a" transform="rotate(-2.15 716.0 591.8)"/><rect x="740.7" y="569.8" width="42.8" height="39.4" fill="#ff7300" transform="rotate(-2.15 762.1 589.5)"/><rect x="786.6" y="568.0" width="42.5" height="38.7" fill="#ffe80a" transform="rotate(-2.15 807.9 587.3)"/><rect x="832.5" y="565.4" width="43.0" height="38.7" fill="#8cfa0a" transform="rotate(-2.15 854.0 584.7)"/></g>
</g>
<text x="765.3" y="670.8" font-size="7.3" fill="#444" text-anchor="middle" font-family="Liberation Sans, sans-serif">A)</text>
</svg>
<div class="t" style="left:31.95px;top:30.06px;font-size:31.0px;font-weight:normal;font-style:normal;transform:scaleX(1.0057)">800V</div>
<div class="t" style="left:112.26px;top:30.06px;font-size:31.0px;font-weight:normal;font-style:normal;transform:scaleX(1.0825)">eMotors</div>
<div class="t" style="left:241.55px;top:30.06px;font-size:31.0px;font-weight:normal;font-style:normal;transform:scaleX(1.0100)">design</div>
<div class="t" style="left:342.07px;top:30.06px;font-size:31.0px;font-weight:normal;font-style:normal;transform:scaleX(0.9912)">aspects:</div>
<div class="t" style="left:464.19px;top:30.06px;font-size:31.0px;font-weight:normal;font-style:normal;transform:scaleX(1.0519)">Hairpin</div>
<div class="t" style="left:576.10px;top:30.06px;font-size:31.0px;font-weight:normal;font-style:normal;transform:scaleX(0.8925)">vs</div>
<div class="t" style="left:612.19px;top:30.06px;font-size:31.0px;font-weight:normal;font-style:normal;transform:scaleX(1.0137)">Stranded</div>
<div class="t" style="left:750.56px;top:30.06px;font-size:31.0px;font-weight:normal;font-style:normal;transform:scaleX(1.0293)">wires</div>
<div class="t" style="left:31.41px;top:76.51px;font-size:24.2px;font-weight:normal;font-style:normal;transform:scaleX(1.0188)">Thermal</div>
<div class="t" style="left:128.27px;top:76.51px;font-size:24.2px;font-weight:normal;font-style:normal;transform:scaleX(1.0343)">simulations</div>
<div class="t" style="left:260.19px;top:76.51px;font-size:24.2px;font-weight:normal;font-style:normal;transform:scaleX(1.0210)">results</div>
<div class="t" style="left:340.58px;top:76.51px;font-size:24.2px;font-weight:normal;font-style:normal;transform:scaleX(0.9752)">(based</div>
<div class="t" style="left:420.20px;top:76.51px;font-size:24.2px;font-weight:normal;font-style:normal;transform:scaleX(1.0380)">on</div>
<div class="t" style="left:455.02px;top:76.51px;font-size:24.2px;font-weight:normal;font-style:normal;transform:scaleX(1.0563)">the</div>
<div class="t" style="left:497.20px;top:76.51px;font-size:24.2px;font-weight:normal;font-style:normal;transform:scaleX(1.0296)">assumption</div>
<div class="t" style="left:631.41px;top:76.51px;font-size:24.2px;font-weight:normal;font-style:normal;transform:scaleX(1.1211)">of</div>
<div class="t" style="left:660.51px;top:76.51px;font-size:24.2px;font-weight:normal;font-style:normal;transform:scaleX(0.9674)">same</div>
<div class="t" style="left:724.80px;top:76.51px;font-size:24.2px;font-weight:normal;font-style:normal;transform:scaleX(0.9624)">phase</div>
<div class="t" style="left:796.17px;top:76.51px;font-size:24.2px;font-weight:normal;font-style:normal;transform:scaleX(1.0641)">current)</div>
<div class="t" style="left:340.47px;top:120.21px;font-size:23.85px;font-weight:bold;font-style:italic;transform:scaleX(0.9241)">Low</div>
<div class="t" style="left:388.88px;top:120.21px;font-size:23.85px;font-weight:bold;font-style:italic;transform:scaleX(0.9869)">frequency</div>
<div class="t" style="left:660.44px;top:118.56px;font-size:23.85px;font-weight:bold;font-style:italic;transform:scaleX(0.9970)">High</div>
<div class="t" style="left:715.78px;top:118.56px;font-size:23.85px;font-weight:bold;font-style:italic;transform:scaleX(0.9860)">frequency</div>
<div class="t" style="left:43.36px;top:398.95px;font-size:16.6px;font-weight:bold;font-style:normal;transform:scaleX(1.0153)">36</div>
<div class="t" style="left:66.99px;top:398.95px;font-size:16.6px;font-weight:bold;font-style:normal;transform:scaleX(1.0559)">wires/slot</div>
<div class="t" style="left:42.74px;top:674.13px;font-size:16.5px;font-weight:bold;font-style:normal;transform:scaleX(1.0325)">4</div>
<div class="t" style="left:56.96px;top:674.13px;font-size:16.5px;font-weight:bold;font-style:normal;transform:scaleX(1.0637)">hairpin/slot</div>
<div class="t" style="left:311.74px;top:407.80px;font-size:17.9px;font-weight:bold;font-style:normal;transform:scaleX(1.0373)">Max</div>
<div class="t" style="left:353.77px;top:407.80px;font-size:17.9px;font-weight:bold;font-style:normal;transform:scaleX(1.0281)">temperature:</div>
<div class="t" style="left:470.85px;top:407.80px;font-size:17.9px;font-weight:bold;font-style:normal;transform:scaleX(0.9754)">142&deg;C</div>
<div class="t" style="left:651.74px;top:407.80px;font-size:17.9px;font-weight:bold;font-style:normal;transform:scaleX(1.0373)">Max</div>
<div class="t" style="left:693.77px;top:407.80px;font-size:17.9px;font-weight:bold;font-style:normal;transform:scaleX(1.0281)">temperature:</div>
<div class="t" style="left:810.85px;top:407.80px;font-size:17.9px;font-weight:bold;font-style:normal;transform:scaleX(0.9754)">176&deg;C</div>
<div class="t" style="left:310.36px;top:692.05px;font-size:17.9px;font-weight:bold;font-style:normal;transform:scaleX(1.0373)">Max</div>
<div class="t" style="left:352.39px;top:692.05px;font-size:17.9px;font-weight:bold;font-style:normal;transform:scaleX(1.0281)">temperature:</div>
<div class="t" style="left:469.44px;top:692.05px;font-size:17.9px;font-weight:bold;font-style:normal;transform:scaleX(0.9915)">118&deg;C</div>
<div class="t" style="left:654.36px;top:695.75px;font-size:17.9px;font-weight:bold;font-style:normal;transform:scaleX(1.0373)">Max</div>
<div class="t" style="left:696.39px;top:695.75px;font-size:17.9px;font-weight:bold;font-style:normal;transform:scaleX(1.0281)">temperature:</div>
<div class="t" style="left:813.46px;top:695.75px;font-size:17.9px;font-weight:bold;font-style:normal;transform:scaleX(0.9713)">175&deg;C</div>
</body></html>
